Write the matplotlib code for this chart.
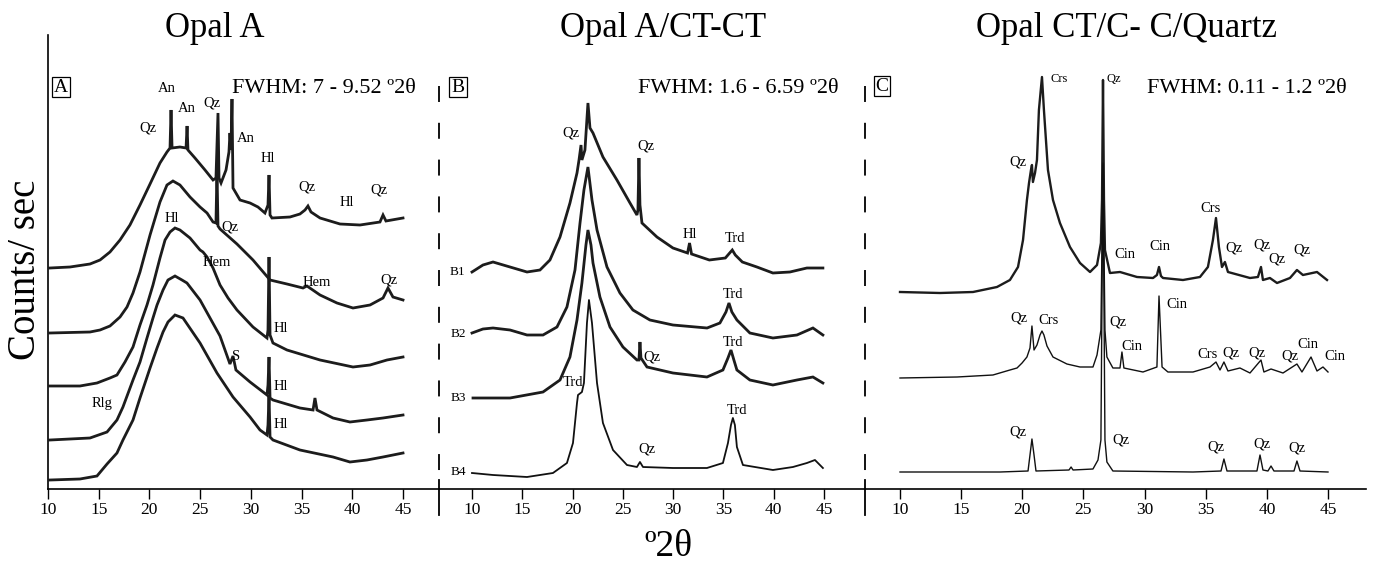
import matplotlib
matplotlib.use("Agg")
import matplotlib.pyplot as plt
from matplotlib.lines import Line2D

plt.rcParams["font.family"] = ["Liberation Serif", "DejaVu Serif"]
plt.rcParams["lines.scale_dashes"] = False

ticks = [10, 15, 20, 25, 30, 35, 40, 45]

# ======================
# A. Opal A  (2theta, counts)
# ======================
a1_tt = [10.2, 12.17, 14.14, 15.13, 16.11, 17.10, 18.08, 19.07, 20.06, 21.04, 21.73, 22.03, 22.13, 22.23, 23.01,
         23.61, 23.71, 23.80, 24.49, 25.48, 26.27, 26.56, 26.76, 26.86, 27.06, 27.55, 27.84, 27.94, 28.04, 28.14,
         28.24, 28.93, 29.92, 30.70, 31.39, 31.69, 31.79, 31.89, 32.08, 33.86, 34.84, 35.34, 35.63, 35.93, 36.82,
         38.79, 40.76, 42.73, 43.03, 43.32, 45.0]
a1_cps = [221, 222, 225, 229, 237, 249, 264, 284, 305, 326, 337, 341, 379, 341, 342,
          341, 363, 339, 331, 319, 309, 311, 376, 311, 306, 319, 337, 356, 339, 390,
          301, 289, 286, 282, 276, 284, 314, 274, 271, 272, 275, 279, 283, 277, 271,
          265, 264, 267, 274, 268, 271]

a2_tt = [10.2, 14.14, 15.13, 16.11, 17.10, 17.79, 18.38, 19.07, 20.06, 21.04, 21.73, 22.32, 23.01, 24.0, 24.99,
         25.68, 26.27, 26.56, 26.66, 26.76, 26.96, 28.63, 30.21, 31.89, 33.56, 35.14, 35.53, 36.82, 38.49, 40.07,
         41.75, 43.03, 43.52, 44.01, 45.0]
a2_cps = [156, 157, 159, 163, 172, 182, 196, 217, 254, 287, 304, 308, 304, 292, 282,
          276, 267, 266, 319, 263, 260, 245, 229, 209, 205, 201, 203, 194, 186, 181,
          184, 191, 201, 192, 189]

a3_tt = [10.2, 13.15, 14.83, 16.11, 16.80, 17.59, 18.38, 19.07, 19.76, 20.35, 21.04, 21.54, 22.03, 22.52, 23.01,
         24.0, 24.99, 25.28, 25.68, 26.27, 26.96, 27.75, 28.63, 30.21, 31.59, 31.69, 31.79, 31.89, 32.18, 33.56,
         36.82, 40.07, 41.75, 43.42, 45.0]
a3_cps = [103, 103, 106, 111, 114, 127, 142, 164, 184, 204, 231, 249, 257, 261, 259,
          251, 239, 237, 232, 221, 204, 191, 179, 162, 151, 159, 232, 154, 146, 139,
          129, 122, 124, 129, 132]

a4_tt = [10.2, 14.14, 15.82, 16.80, 17.39, 18.38, 19.07, 19.76, 20.35, 20.75, 21.34, 21.83, 22.52, 23.21, 23.70,
         24.99, 26.96, 27.94, 28.24, 28.53, 29.92, 31.59, 31.69, 31.79, 31.89, 32.18, 34.84, 36.13, 36.32, 36.52,
         38.10, 39.77, 41.45, 43.03, 45.0]
a4_cps = [49, 51, 57, 69, 82, 109, 127, 151, 171, 184, 199, 209, 213, 209, 206,
          189, 153, 125, 133, 119, 107, 94, 104, 132, 91, 89, 81, 79, 91, 79,
          71, 67, 69, 71, 74]

a5_tt = [10.2, 13.15, 14.83, 15.82, 16.80, 17.39, 18.38, 19.07, 20.06, 20.75, 21.34, 21.83, 22.52, 23.31, 24.99,
         26.66, 28.24, 29.92, 30.90, 31.59, 31.69, 31.79, 31.89, 32.18, 34.84, 38.10, 39.77, 41.45, 43.03, 45.0]
a5_cps = [9, 10, 13, 25, 36, 49, 69, 91, 121, 141, 157, 167, 174, 171, 146,
          116, 92, 72, 59, 54, 64, 94, 52, 49, 39, 32, 27, 29, 32, 36]

# ======================
# B. Opal A/CT-CT
# ======================
b1_tt = [10.0, 11.09, 12.09, 13.78, 15.47, 16.76, 17.75, 18.75, 19.74, 20.44, 20.64, 20.84, 20.93, 21.23, 21.53,
         21.73, 22.03, 23.02, 24.41, 25.71, 26.40, 26.50, 26.60, 26.70, 26.90, 28.39, 29.98, 31.43, 31.63, 31.83,
         33.60, 35.19, 35.88, 36.18, 36.88, 38.33, 39.92, 41.61, 43.30, 44.89]
b1_cps = [217, 224, 227, 222, 217, 219, 229, 252, 286, 316, 329, 344, 329, 339, 386,
          361, 356, 332, 309, 286, 274, 279, 331, 284, 266, 252, 241, 236, 246, 235,
          229, 231, 239, 234, 227, 222, 216, 217, 221, 221]

b2_tt = [10.0, 11.09, 12.09, 13.78, 15.47, 17.06, 18.45, 19.44, 20.24, 20.74, 21.13, 21.53, 21.93, 22.43, 23.42,
         24.71, 26.0, 27.69, 29.98, 33.37, 34.65, 35.25, 35.55, 35.84, 36.34, 37.63, 39.92, 42.31, 43.90, 44.89]
b2_cps = [156, 160, 161, 159, 154, 154, 162, 182, 219, 266, 299, 322, 289, 259, 222,
          196, 179, 169, 164, 161, 166, 177, 186, 177, 169, 156, 151, 154, 161, 154]

b3_tt = [10.10, 13.78, 17.06, 18.75, 19.74, 20.44, 20.93, 21.33, 21.53, 21.83, 22.03, 22.72, 23.72, 25.01, 26.40,
         26.60, 26.70, 26.80, 27.40, 29.98, 33.36, 34.95, 35.45, 35.75, 36.04, 36.34, 37.63, 39.92, 42.31, 43.90,
         44.89]
b3_cps = [91, 91, 97, 109, 132, 169, 206, 244, 259, 244, 226, 192, 162, 142, 129,
          129, 147, 131, 122, 116, 112, 119, 131, 139, 129, 119, 109, 104, 109, 112,
          106]

b4_tt = [10.0, 12.09, 15.47, 18.05, 19.44, 20.04, 20.44, 20.54, 20.93, 21.13, 21.43, 21.63, 21.93, 22.43, 23.02,
         24.02, 25.41, 26.40, 26.70, 27.00, 29.98, 33.36, 34.95, 35.45, 35.75, 35.94, 36.14, 36.34, 36.94, 39.92,
         41.91, 43.30, 44.10, 44.89]
b4_cps = [16, 14, 12, 16, 26, 46, 86, 94, 97, 106, 166, 189, 166, 106, 66,
          39, 24, 22, 27, 22, 21, 21, 26, 46, 64, 71, 64, 42, 24, 19,
          22, 26, 29, 21]

# ======================
# C. Opal CT/C- C/Quartz
# ======================
c1_tt = [10.0, 13.27, 15.97, 17.93, 18.99, 19.65, 20.06, 20.38, 20.55, 20.71, 20.79, 20.87, 21.04, 21.20, 21.36,
         21.61, 21.77, 22.10, 22.51, 23.08, 23.90, 24.72, 25.54, 26.11, 26.43, 26.52, 26.60, 26.68, 26.76, 27.17,
         27.99, 29.38, 30.69, 31.01, 31.18, 31.34, 31.51, 33.14, 34.53, 35.18, 35.59, 35.84, 36.08, 36.33, 36.57,
         36.82, 38.62, 39.27, 39.52, 39.68, 40.25, 40.83, 41.89, 42.46, 42.95, 44.10, 44.92]
c1_cps = [197, 196, 197, 202, 209, 222, 249, 289, 306, 319, 324, 307, 316, 329, 379,
          412, 379, 319, 289, 266, 242, 226, 217, 224, 246, 289, 409, 289, 239, 216,
          217, 212, 211, 214, 222, 213, 211, 209, 212, 222, 249, 271, 242, 222, 227,
          217, 211, 212, 222, 209, 211, 206, 211, 219, 214, 217, 209]

c2_tt = [10.0, 14.66, 17.60, 18.99, 19.57, 19.98, 20.38, 20.63, 20.79, 20.96, 21.20, 21.45, 21.61, 21.77, 22.02,
         22.51, 23.65, 24.72, 25.78, 26.11, 26.43, 26.60, 26.76, 26.92, 27.41, 27.99, 28.15, 28.31, 29.87, 31.01,
         31.18, 31.43, 31.91, 33.96, 35.35, 35.84, 36.17, 36.49, 36.82, 37.80, 38.62, 39.52, 39.76, 40.34, 41.32,
         42.46, 42.87, 43.61, 44.10, 44.59, 45.0]
c2_cps = [111, 112, 114, 119, 121, 126, 132, 141, 163, 139, 144, 154, 158, 154, 143,
          132, 125, 122, 122, 134, 159, 326, 159, 132, 121, 121, 137, 121, 117, 122,
          193, 122, 117, 117, 122, 127, 119, 127, 118, 121, 116, 129, 117, 120, 116,
          125, 117, 132, 118, 122, 117]

c3_tt = [10.0, 18.18, 20.47, 20.63, 20.79, 20.96, 21.12, 23.82, 23.99, 24.15, 25.78, 26.19, 26.43, 26.60, 26.76,
         26.92, 27.41, 33.96, 36.25, 36.49, 36.74, 39.19, 39.44, 39.68, 40.09, 40.34, 40.58, 42.22, 42.46, 42.71,
         45.0]
c3_cps = [17, 17, 18, 34, 50, 34, 18, 19, 22, 19, 20, 29, 49, 324, 49,
          27, 18, 17, 18, 30, 18, 18, 34, 19, 18, 23, 18, 18, 28, 18,
          17]

# phase labels: (text, 2theta, counts)
labels_a = [("Qz", 19.86, 361), ("An", 21.73, 400), ("An", 23.70, 380), ("Qz", 26.17, 386), ("An", 29.52, 351),
            ("Hl", 31.69, 330), ("Qz", 35.53, 302), ("Hl", 39.48, 286), ("Qz", 42.63, 299), ("Hl", 22.23, 271),
            ("Qz", 27.94, 262), ("Hem", 26.66, 227), ("Hem", 36.52, 206), ("Qz", 43.62, 209), ("Hl", 32.97, 160),
            ("S", 28.53, 133), ("Hl", 32.97, 102), ("Rlg", 15.32, 85), ("Hl", 32.97, 65)]
labels_b = [("Qz", 19.84, 356), ("Qz", 27.30, 343), ("Hl", 31.67, 255), ("Trd", 36.14, 251), ("Trd", 35.94, 195),
            ("Qz", 27.89, 132), ("Trd", 35.94, 147), ("Trd", 20.04, 106), ("Trd", 36.34, 78), ("Qz", 27.40, 40)]
names_b = [("B1", 8.51, 217), ("B2", 8.61, 155), ("B3", 8.61, 91), ("B4", 8.61, 17)]
labels_c = [("Qz", 19.65, 327), ("Crs", 35.43, 281), ("Cin", 28.40, 235), ("Cin", 31.26, 243),
            ("Qz", 37.31, 241), ("Qz", 39.60, 244), ("Qz", 40.83, 230), ("Qz", 42.87, 239),
            ("Qz", 19.73, 171), ("Crs", 22.18, 168), ("Qz", 27.83, 167), ("Cin", 32.65, 185), ("Cin", 28.97, 143),
            ("Crs", 35.18, 135), ("Qz", 37.06, 136), ("Qz", 39.19, 136), ("Qz", 41.89, 133), ("Cin", 43.36, 145),
            ("Cin", 45.57, 132), ("Qz", 19.65, 57), ("Qz", 28.07, 49), ("Qz", 35.84, 42), ("Qz", 39.60, 45),
            ("Qz", 42.46, 41)]
labels_c_small = [("Crs", 23.0, 410), ("Qz", 27.50, 410)]

W, H = 1375.0, 562.0
BASE, TOP = 489, 35
fig = plt.figure(figsize=(W / 100, H / 100), dpi=100)


def add_panel(left, right, px10, px45):
    ax = fig.add_axes([left / W, 1 - BASE / H, (right - left) / W, (BASE - TOP) / H])
    k = (px45 - px10) / 35.0
    ax.set_xlim(10 - (px10 - left) / k, 10 + (right - px10) / k)
    ax.set_ylim(0, BASE - TOP)
    ax.patch.set_visible(False)
    for s in ["top", "right", "left"]:
        ax.spines[s].set_visible(False)
    ax.spines["bottom"].set_linewidth(1.2)
    ax.set_yticks([])
    ax.set_xticks(ticks)
    ax.tick_params(axis="x", direction="out", length=7, width=1.0, labelsize=12.5, pad=2)
    return ax


ax_a = add_panel(48, 439, 48, 403)
ax_a.spines["left"].set_visible(True)
ax_a.spines["left"].set_linewidth(1.2)
ax_b = add_panel(439, 865, 472, 824)
ax_c = add_panel(865, 1366, 900, 1328)

noisy = dict(color="#1c1c1c", lw=2.0, solid_joinstyle="miter")
clean = dict(color="#111111", lw=1.0)

for tt, cps in [(a1_tt, a1_cps), (a2_tt, a2_cps), (a3_tt, a3_cps), (a4_tt, a4_cps), (a5_tt, a5_cps)]:
    ax_a.plot(tt, cps, **noisy)
for tt, cps in [(b1_tt, b1_cps), (b2_tt, b2_cps), (b3_tt, b3_cps)]:
    ax_b.plot(tt, cps, **noisy)
ax_b.plot(b4_tt, b4_cps, color="#111111", lw=1.3)
ax_c.plot(c1_tt, c1_cps, color="#1c1c1c", lw=1.7)
ax_c.plot(c2_tt, c2_cps, **clean)
ax_c.plot(c3_tt, c3_cps, **clean)

for ax, labs in [(ax_a, labels_a), (ax_b, labels_b), (ax_c, labels_c)]:
    for s, t, c in labs:
        ax.text(t, c, s, ha="center", va="center", fontsize=10.5, clip_on=False)
for s, t, c in names_b:
    ax_b.text(t, c, s, ha="center", va="center", fontsize=9.5)
for s, t, c in labels_c_small:
    ax_c.text(t, c, s, ha="center", va="center", fontsize=9)


def ftext(x, y, s, **kw):
    return fig.text(x / W, 1 - y / H, s, **kw)


# titles
ftext(215, 37, "Opal A", ha="center", va="baseline", fontsize=25)
ftext(663, 37, "Opal A/CT-CT", ha="center", va="baseline", fontsize=25)
ftext(1127, 37, "Opal CT/C- C/Quartz", ha="center", va="baseline", fontsize=25)

# FWHM ranges
ftext(232, 93, "FWHM: 7 - 9.52 º2θ", ha="left", va="baseline", fontsize=16)
ftext(638, 93, "FWHM: 1.6 - 6.59 º2θ", ha="left", va="baseline", fontsize=16)
ftext(1147, 93, "FWHM: 0.11 - 1.2 º2θ", ha="left", va="baseline", fontsize=16)

# panel letters
box = dict(boxstyle="square,pad=0.1", fc="none", ec="black", lw=0.9)
ftext(61, 87, "A", ha="center", va="center", fontsize=14, bbox=box)
ftext(458, 87, "B", ha="center", va="center", fontsize=14, bbox=box)
ftext(882, 86, "C", ha="center", va="center", fontsize=14, bbox=box)

# axis titles
ftext(26, 270, "Counts/ sec", ha="center", va="center", rotation=90, fontsize=28)
ftext(668, 547, "º2θ", ha="center", va="center", fontsize=27)

# dividers
for xp in (439, 865):
    fig.add_artist(Line2D([xp / W, xp / W], [1 - 86 / H, 1 - 480 / H], color="black", lw=1.3,
                          linestyle=(0, (11.5, 15))))
    fig.add_artist(Line2D([xp / W, xp / W], [1 - 480 / H, 1 - 515 / H], color="black", lw=1.3))

fig.savefig("out.png", dpi=100)
